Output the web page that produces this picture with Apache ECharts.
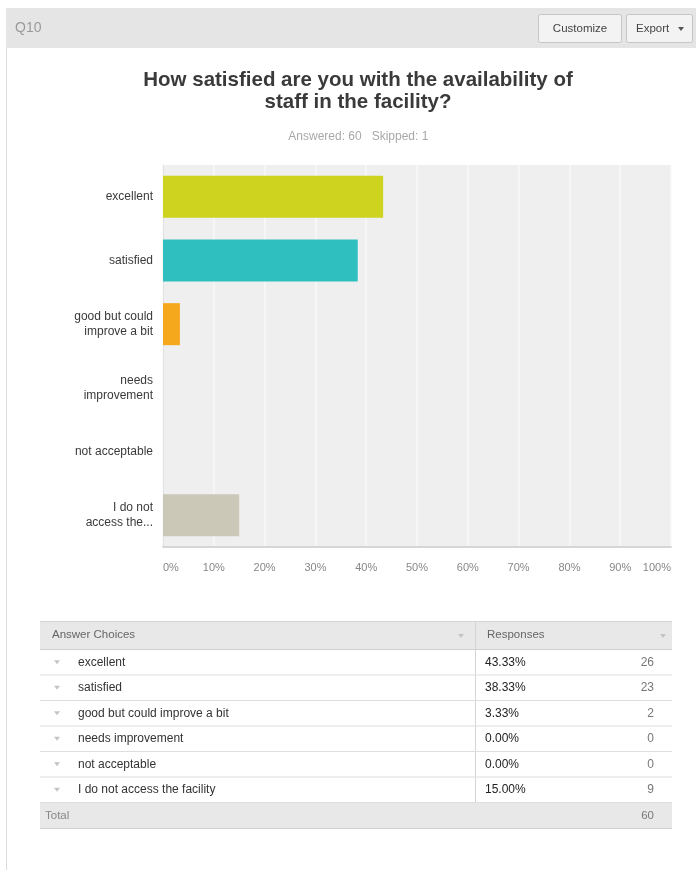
<!DOCTYPE html>
<html><head><meta charset="utf-8">
<script src="https://cdn.jsdelivr.net/npm/echarts@6/dist/echarts.min.js"></script>
<style>html,body{margin:0;padding:0;background:#fff}#c{width:696px;height:870px}</style>
</head><body><div id="c"></div>
<script>
// ---- data ----
const questionId = 'Q10';
const titleLines = ['How satisfied are you with the availability of', 'staff in the facility?'];
const answered = 60;
const skipped = 1;
const categories = ['excellent', 'satisfied', 'good but could\nimprove a bit', 'needs\nimprovement', 'not acceptable', 'I do not\naccess the...'];
const tableChoices = ['excellent', 'satisfied', 'good but could improve a bit', 'needs improvement', 'not acceptable', 'I do not access the facility'];
const percents = [43.33, 38.33, 3.33, 0.00, 0.00, 15.00];
const counts = [26, 23, 2, 0, 0, 9];
const barColors = ['#cdd31f', '#2fbfbf', '#f6a81c', '#9ec2d8', '#c77dbb', '#cbc8b8'];
const total = 60;

const FONT = '"Liberation Sans", Arial, sans-serif';

function tri(cx, cy, color) {
  return { type: 'polygon', shape: { points: [[cx - 3, cy - 2], [cx + 3, cy - 2], [cx, cy + 2]] }, style: { fill: color } };
}

const g = [];
// page left border
g.push({ type: 'rect', shape: { x: 6, y: 48, width: 1, height: 822 }, style: { fill: '#dcdcdc' } });
// header band
g.push({ type: 'rect', shape: { x: 6, y: 8, width: 690, height: 40 }, style: { fill: '#e5e5e5' } });
g.push({ type: 'text', x: 15, y: 28, style: { text: questionId, font: '14px ' + FONT, fill: '#9a9a9a', verticalAlign: 'middle' } });
// buttons
g.push({ type: 'rect', shape: { x: 538.5, y: 14.5, width: 83, height: 28, r: 2 }, style: { fill: '#f3f3f3', stroke: '#c6c6c6', lineWidth: 1 } });
g.push({ type: 'text', x: 580, y: 29, style: { text: 'Customize', font: '11.5px ' + FONT, fill: '#444', align: 'center', verticalAlign: 'middle' } });
g.push({ type: 'rect', shape: { x: 626.5, y: 14.5, width: 66, height: 28, r: 2 }, style: { fill: '#f3f3f3', stroke: '#c6c6c6', lineWidth: 1 } });
g.push({ type: 'text', x: 636, y: 29, style: { text: 'Export', font: '11.5px ' + FONT, fill: '#444', verticalAlign: 'middle' } });
g.push(tri(681, 29, '#555'));
// title
g.push({ type: 'text', x: 358, y: 80, style: { text: titleLines[0], font: 'bold 20.5px ' + FONT, fill: '#3a3a3a', align: 'center', verticalAlign: 'middle' } });
g.push({ type: 'text', x: 358, y: 102, style: { text: titleLines[1], font: 'bold 20.5px ' + FONT, fill: '#3a3a3a', align: 'center', verticalAlign: 'middle' } });
g.push({ type: 'text', x: 325, y: 137, style: { text: 'Answered: ' + answered, font: '12px ' + FONT, fill: '#a8a8a8', align: 'center', verticalAlign: 'middle' } });
g.push({ type: 'text', x: 400, y: 137, style: { text: 'Skipped: ' + skipped, font: '12px ' + FONT, fill: '#a8a8a8', align: 'center', verticalAlign: 'middle' } });

// table
const tL = 40, tR = 672, tDiv = 475, hTop = 621, hBot = 649, rowH = 25.5;
g.push({ type: 'rect', shape: { x: tL, y: hTop, width: tR - tL, height: hBot - hTop }, style: { fill: '#e8e8e8' } });
g.push({ type: 'rect', shape: { x: tL, y: hTop, width: tR - tL, height: 1 }, style: { fill: '#d4d4d4' } });
g.push({ type: 'rect', shape: { x: tL, y: hBot, width: tR - tL, height: 1 }, style: { fill: '#cfcfcf' } });
g.push({ type: 'text', x: 52, y: 635, style: { text: 'Answer Choices', font: '11.5px ' + FONT, fill: '#666', verticalAlign: 'middle' } });
g.push({ type: 'text', x: 487, y: 635, style: { text: 'Responses', font: '11.5px ' + FONT, fill: '#666', verticalAlign: 'middle' } });
g.push(tri(461, 636, '#c4c4c4'));
g.push(tri(663, 636, '#c4c4c4'));
const rowsBottom = hBot + rowH * tableChoices.length;
g.push({ type: 'rect', shape: { x: tDiv, y: hTop, width: 1, height: rowsBottom - hTop }, style: { fill: '#d4d4d4' } });
tableChoices.forEach((name, i) => {
  const y0 = hBot + rowH * i;
  const cy = y0 + rowH / 2 + 0.5;
  g.push({ type: 'rect', shape: { x: tL, y: y0 + rowH, width: tR - tL, height: 1 }, style: { fill: '#dedede' } });
  g.push(tri(57, cy, '#c4c4c4'));
  g.push({ type: 'text', x: 78, y: cy, style: { text: name, font: '12px ' + FONT, fill: '#333', verticalAlign: 'middle' } });
  g.push({ type: 'text', x: 485, y: cy, style: { text: percents[i].toFixed(2) + '%', font: '12px ' + FONT, fill: '#222', verticalAlign: 'middle' } });
  g.push({ type: 'text', x: 654, y: cy, style: { text: String(counts[i]), font: '12px ' + FONT, fill: '#777', align: 'right', verticalAlign: 'middle' } });
});
g.push({ type: 'rect', shape: { x: tL, y: rowsBottom + 1, width: tR - tL, height: 25 }, style: { fill: '#e8e8e8' } });
g.push({ type: 'rect', shape: { x: tL, y: rowsBottom + 26, width: tR - tL, height: 1 }, style: { fill: '#cfcfcf' } });
g.push({ type: 'text', x: 45, y: rowsBottom + 13.5, style: { text: 'Total', font: '11.5px ' + FONT, fill: '#888', verticalAlign: 'middle' } });
g.push({ type: 'text', x: 654, y: rowsBottom + 13.5, style: { text: String(total), font: '11.5px ' + FONT, fill: '#777', align: 'right', verticalAlign: 'middle' } });

const chart = echarts.init(document.getElementById('c'), null, { renderer: 'canvas' });
chart.setOption({
  animation: false,
  backgroundColor: '#ffffff',
  textStyle: { fontFamily: FONT },
  grid: { left: 163, right: 25, top: 165, bottom: 323, show: true, backgroundColor: '#efefef', borderWidth: 0 },
  xAxis: {
    type: 'value', min: 0, max: 100, interval: 10,
    axisLine: { show: true, lineStyle: { color: '#d6d6d6', width: 2 } },
    axisTick: { show: false },
    splitLine: { show: true, lineStyle: { color: '#f8f8f8', width: 1.5 } },
    axisLabel: { formatter: '{value}%', color: '#888', fontSize: 11, margin: 15, alignMinLabel: 'left', alignMaxLabel: 'right' }
  },
  yAxis: {
    type: 'category', data: categories, inverse: true,
    axisLine: { show: true, lineStyle: { color: '#e2e2e2', width: 1 } },
    axisTick: { show: false },
    axisLabel: { color: '#3a3a3a', fontSize: 12, margin: 10, align: 'right', lineHeight: 15 }
  },
  series: [{
    type: 'bar',
    data: percents.map((v, i) => ({ value: v, itemStyle: { color: barColors[i] } })),
    barCategoryGap: '34%'
  }],
  graphic: { elements: g }
});
</script>
</body></html>
